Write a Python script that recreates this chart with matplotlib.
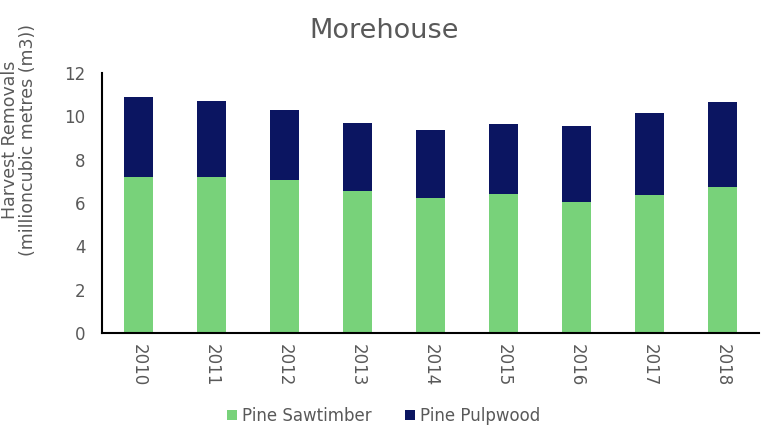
import matplotlib
matplotlib.use("Agg")
import matplotlib.pyplot as plt

years = ["2010", "2011", "2012", "2013", "2014", "2015", "2016", "2017", "2018"]
sawtimber = [7.21, 7.21, 7.07, 6.56, 6.24, 6.43, 6.05, 6.38, 6.75]
totals = [10.91, 10.72, 10.31, 9.71, 9.38, 9.66, 9.57, 10.17, 10.68]
pulpwood = [t - s for t, s in zip(totals, sawtimber)]

grey = "#595959"
plt.rcParams['font.family'] = ['DejaVu Sans']

fig = plt.figure(figsize=(7.68, 4.46), dpi=100)
ax = fig.add_axes([102 / 768, 1 - 333 / 446, (759 - 102) / 768, (333 - 73) / 446])

x = range(len(years))
ax.bar(x, sawtimber, width=0.4, color="#78D27A", label="Pine Sawtimber")
ax.bar(x, pulpwood, width=0.4, bottom=sawtimber, color="#0B1561", label="Pine Pulpwood")

ax.set_xlim(-0.5, len(years) - 0.5)
ax.set_ylim(0, 12)
ax.set_yticks(range(0, 13, 2))
ax.set_xticks(list(x))
ax.set_xticklabels(years, rotation=-90)
ax.tick_params(axis='both', length=0, colors=grey, labelsize=12)
ax.tick_params(axis='x', pad=8)
ax.tick_params(axis='y', pad=12)
for s in ['top', 'right']:
    ax.spines[s].set_visible(False)
for s in ['left', 'bottom']:
    ax.spines[s].set_linewidth(1.5)
    ax.spines[s].set_color("black")

# y label sits higher than the axes centre in the original
fig.text(19 / 768, 1 - 140 / 446, "Harvest Removals\n(millioncubic metres (m3))", rotation=90,
         ha='center', va='center', color=grey, fontsize=12.5, linespacing=1.0)
fig.text(0.5, 1 - 31 / 446, "Morehouse", ha='center', va='center', fontsize=19.5, color=grey)

fig.legend(loc='center', bbox_to_anchor=(0.5, 1 - 416 / 446), ncol=2, frameon=False,
           fontsize=12, labelcolor=grey, handlelength=0.6, handleheight=0.6,
           handletextpad=0.3, columnspacing=2.0)

fig.savefig("out.png", dpi=100)
